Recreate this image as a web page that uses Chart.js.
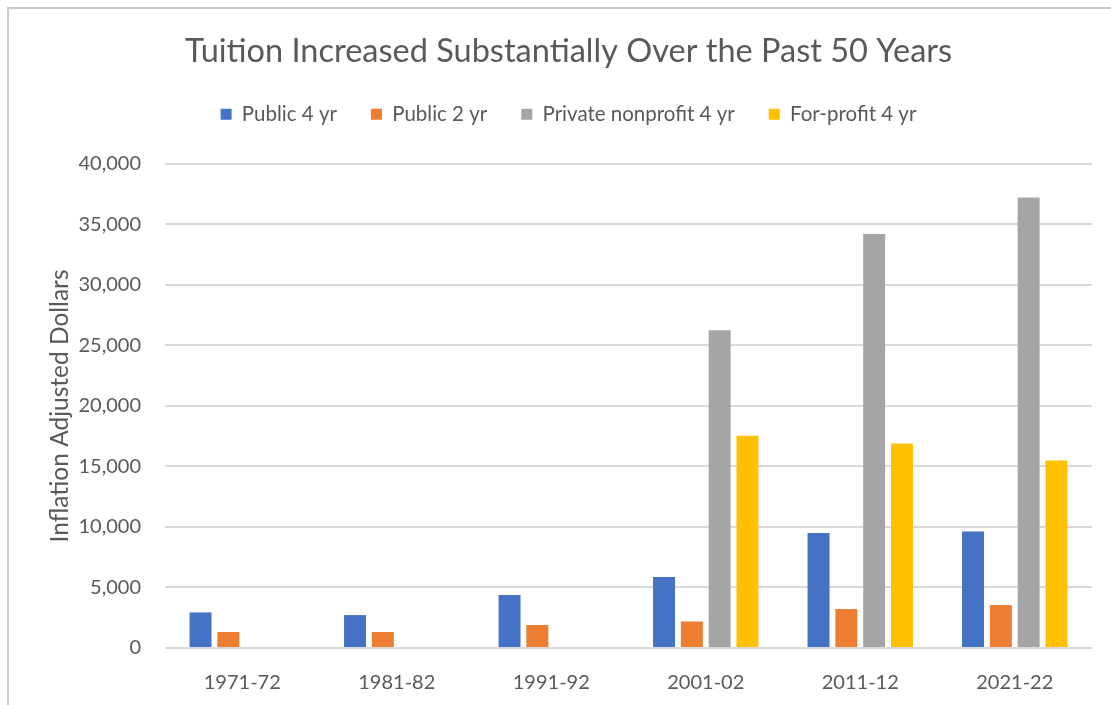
<!DOCTYPE html>
<html>
<head>
<meta charset="utf-8">
<script src="https://cdn.jsdelivr.net/npm/chart.js@4"></script>
<style>
  html, body { margin: 0; padding: 0; background: #fff; overflow: hidden; }
  #wrap { position: relative; width: 1111px; height: 705px; }
  #frame { position: absolute; left: 7px; top: 7px; right: -5px; bottom: -5px; border-left: 2px solid #cacaca; border-top: 2px solid #cacaca; }
  canvas { position: absolute; left: 0; top: 0; }
</style>
</head>
<body>
<div id="wrap">
  <div id="frame"></div>
  <canvas id="chart" width="1111" height="705"></canvas>
</div>
<script>
const years = ['1971-72', '1981-82', '1991-92', '2001-02', '2011-12', '2021-22'];
const public4 = [2940, 2720, 4370, 5860, 9510, 9620];
const public2 = [1320, 1320, 1900, 2190, 3220, 3550];
const private4 = [null, null, null, 26250, 34200, 37220];
const forprofit4 = [null, null, null, 17530, 16900, 15500];
const yTicks = [0, 5000, 10000, 15000, 20000, 25000, 30000, 35000, 40000];

const textColor = '#595959';
const fontFamily = "Lato, 'Open Sans', sans-serif";

const ctx = document.getElementById('chart');

new Chart(ctx, {
    type: 'bar',
    data: {
        labels: years,
        datasets: [
            { label: 'Public 4 yr', data: public4, backgroundColor: '#4472C4' },
            { label: 'Public 2 yr', data: public2, backgroundColor: '#ED7D31' },
            { label: 'Private nonprofit 4 yr', data: private4, backgroundColor: '#A5A5A5' },
            { label: 'For-profit 4 yr', data: forprofit4, backgroundColor: '#FFC000' },
        ]
    },
    options: {
        responsive: false,
        animation: false,
        layout: {
            padding: { left: 45, right: 19, top: 10, bottom: 10 }
        },
        datasets: {
            bar: {
                categoryPercentage: 0.72,
                barPercentage: 0.79,
            }
        },
        scales: {
            x: {
                grid: { display: false, drawTicks: false },
                border: { display: false },
                afterFit: scale => { scale.height = 47; },
                ticks: {
                    color: textColor,
                    padding: 23,
                    font: { family: fontFamily, size: 20 }
                }
            },
            y: {
                min: 0,
                max: 40000,
                afterBuildTicks: scale => {
                    scale.ticks = yTicks.map(v => ({ value: v }));
                },
                afterFit: scale => { scale.width = 120; },
                grid: {
                    color: '#d9d9d9',
                    lineWidth: 2,
                    drawTicks: false,
                },
                border: { display: false },
                ticks: {
                    color: textColor,
                    padding: 24,
                    font: { family: fontFamily, size: 20 },
                    callback: v => v.toLocaleString('en-US')
                },
                title: {
                    display: true,
                    text: 'Inflation Adjusted Dollars',
                    color: textColor,
                    font: { family: fontFamily, size: 24.5 },
                    padding: { top: 0, bottom: 4 }
                }
            }
        },
        plugins: {
            title: {
                display: true,
                text: 'Tuition Increased Substantially Over the Past 50 Years',
                color: textColor,
                font: { family: fontFamily, size: 32.5, weight: 'normal' },
                padding: { top: 22, bottom: -1 }
            },
            // empty spacer between the legend and the plot
            subtitle: {
                display: true,
                text: ' ',
                weight: 500,
                font: { size: 2 },
                padding: { top: 0, bottom: 27 }
            },
            legend: {
                labels: {
                    color: textColor,
                    boxWidth: 11,
                    boxHeight: 11,
                    padding: 34,
                    font: { family: fontFamily, size: 20.5 }
                }
            },
            tooltip: { enabled: false }
        }
    }
});
</script>
</body>
</html>
